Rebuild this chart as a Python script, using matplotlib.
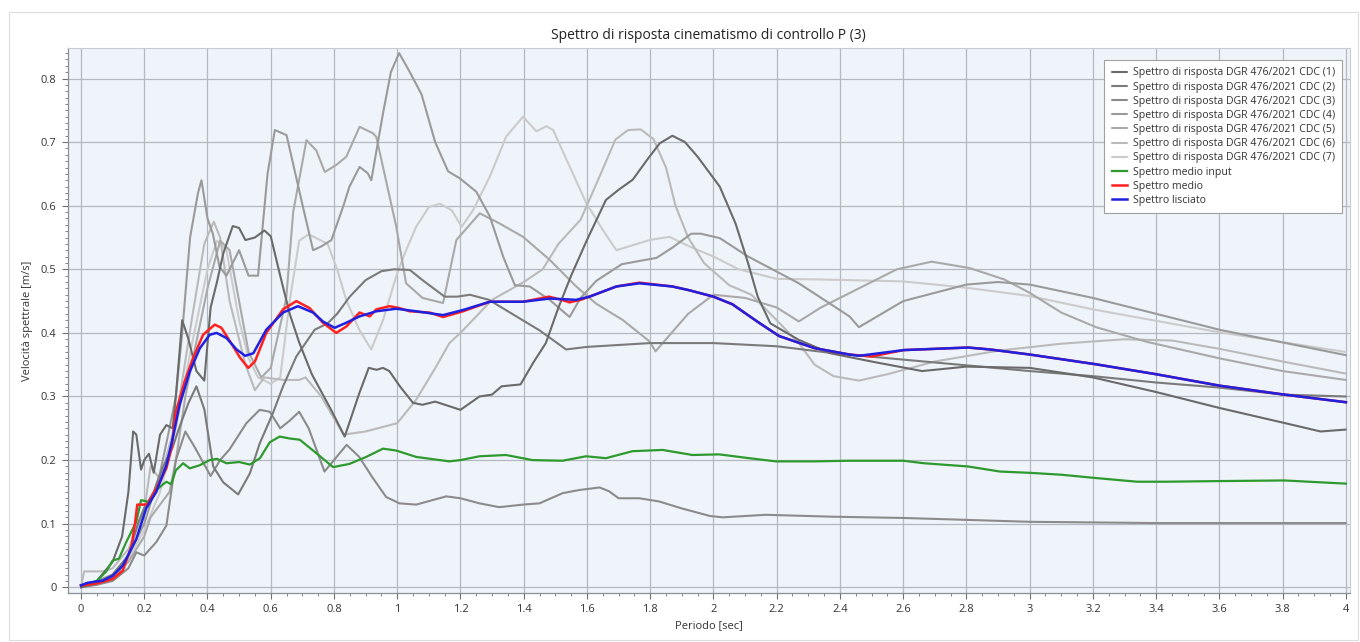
import matplotlib
matplotlib.use("Agg")
import matplotlib.pyplot as plt
from matplotlib.ticker import MultipleLocator, FuncFormatter
from matplotlib.patches import Rectangle

plt.rcParams['font.family'] = ['Open Sans', 'DejaVu Sans']

title = "Spettro di risposta cinematismo di controllo P (3)"
xlabel = "Periodo [sec]"
ylabel = "Velocità spettrale [m/s]"

labels_cdc = ["Spettro di risposta DGR 476/2021 CDC (%d)" % i for i in range(1, 8)]
label_green = "Spettro medio input"
label_red = "Spettro medio"
label_blue = "Spettro lisciato"

# ---- CDC (1)
cdc1_x = [0, 0.05, 0.1, 0.13, 0.15, 0.165, 0.175, 0.19, 0.2, 0.215, 0.23, 0.25, 0.27, 0.29, 0.3, 0.32,
          0.34, 0.365, 0.39, 0.41, 0.43, 0.45, 0.48, 0.5, 0.52, 0.55, 0.58, 0.6, 0.63, 0.66, 0.69, 0.73,
          0.79, 0.834, 0.88, 0.91, 0.935, 0.955, 0.975, 1.01, 1.05, 1.08, 1.12, 1.2, 1.26, 1.3, 1.33,
          1.39, 1.43, 1.47, 1.51, 1.55, 1.6, 1.66, 1.7, 1.745, 1.79, 1.83, 1.87, 1.91, 1.95, 2.02, 2.07,
          2.11, 2.14, 2.18, 2.27, 2.37, 2.5, 2.66, 2.8, 3.0, 3.2, 3.4, 3.6, 3.8, 3.92, 4.0]
cdc1_y = [0, 0.01, 0.04, 0.08, 0.15, 0.245, 0.24, 0.185, 0.2, 0.21, 0.18, 0.24, 0.255, 0.25, 0.3, 0.42,
          0.39, 0.34, 0.325, 0.44, 0.48, 0.525, 0.568, 0.565, 0.546, 0.55, 0.561, 0.552, 0.49, 0.43, 0.385,
          0.335, 0.28, 0.237, 0.305, 0.345, 0.342, 0.345, 0.34, 0.315, 0.29, 0.287, 0.292, 0.279, 0.3,
          0.303, 0.316, 0.319, 0.353, 0.384, 0.44, 0.49, 0.546, 0.609, 0.625, 0.641, 0.672, 0.698, 0.71,
          0.7, 0.677, 0.63, 0.572, 0.509, 0.457, 0.415, 0.389, 0.368, 0.355, 0.34, 0.347, 0.345, 0.33,
          0.307, 0.282, 0.259, 0.245, 0.248]

# ---- CDC (2)
cdc2_x = [0, 0.05, 0.1, 0.15, 0.18, 0.2, 0.23, 0.26, 0.29, 0.31, 0.34, 0.365, 0.39, 0.418, 0.45, 0.497,
          0.534, 0.565, 0.607, 0.639, 0.681, 0.739, 0.78, 0.81, 0.85, 0.9, 0.95, 0.99, 1.04, 1.08, 1.15,
          1.19, 1.23, 1.29, 1.38, 1.45, 1.534, 1.6, 1.8, 2.0, 2.2, 2.38, 2.6, 2.8, 3.0, 3.2, 3.4, 3.6,
          3.8, 4.0]
cdc2_y = [0, 0.006, 0.02, 0.05, 0.1, 0.125, 0.15, 0.19, 0.22, 0.25, 0.29, 0.316, 0.28, 0.19, 0.165, 0.146,
          0.179, 0.226, 0.274, 0.316, 0.363, 0.405, 0.415, 0.43, 0.457, 0.483, 0.497, 0.5, 0.499, 0.483,
          0.457, 0.457, 0.46, 0.452, 0.425, 0.404, 0.374, 0.378, 0.384, 0.384, 0.379, 0.368, 0.358, 0.349,
          0.34, 0.332, 0.322, 0.314, 0.303, 0.3]

# ---- CDC (3)
cdc3_x = [0, 0.05, 0.1, 0.15, 0.175, 0.2, 0.238, 0.27, 0.3, 0.33, 0.36, 0.41, 0.44, 0.47, 0.523, 0.565,
          0.597, 0.63, 0.66, 0.69, 0.72, 0.77, 0.8, 0.84, 0.88, 0.92, 0.965, 1.007, 1.06, 1.155, 1.2,
          1.26, 1.323, 1.397, 1.45, 1.523, 1.576, 1.64, 1.67, 1.7, 1.765, 1.828, 1.9, 1.99, 2.03, 2.165,
          2.376, 2.6, 2.8, 3.0, 3.4, 4.0]
cdc3_y = [0, 0.004, 0.01, 0.03, 0.055, 0.05, 0.071, 0.097, 0.2, 0.245, 0.22, 0.175, 0.2, 0.217, 0.258,
          0.279, 0.276, 0.25, 0.262, 0.276, 0.25, 0.182, 0.2, 0.224, 0.205, 0.174, 0.142, 0.132, 0.13,
          0.143, 0.14, 0.132, 0.126, 0.13, 0.132, 0.148, 0.153, 0.157, 0.151, 0.14, 0.14, 0.135, 0.124,
          0.112, 0.11, 0.114, 0.111, 0.109, 0.106, 0.103, 0.101, 0.101]

# ---- CDC (4)
cdc4_x = [0, 0.05, 0.1, 0.15, 0.2, 0.25, 0.28, 0.3, 0.32, 0.345, 0.37, 0.381, 0.4, 0.417, 0.438, 0.46,
          0.5, 0.53, 0.56, 0.59, 0.613, 0.65, 0.702, 0.734, 0.76, 0.792, 0.83, 0.849, 0.881, 0.907, 0.918,
          0.955, 0.98, 1.006, 1.04, 1.077, 1.12, 1.161, 1.198, 1.25, 1.293, 1.335, 1.372, 1.419, 1.482,
          1.545, 1.58, 1.63, 1.71, 1.82, 1.87, 1.93, 1.96, 2.02, 2.11, 2.27, 2.43, 2.46, 2.6, 2.8, 2.9,
          3.0, 3.2, 3.4, 3.6, 3.8, 4.0]
cdc4_y = [0, 0.01, 0.02, 0.05, 0.1, 0.18, 0.25, 0.3, 0.4, 0.55, 0.62, 0.64, 0.58, 0.556, 0.504, 0.49,
          0.53, 0.49, 0.49, 0.65, 0.719, 0.711, 0.598, 0.53, 0.536, 0.546, 0.6, 0.63, 0.661, 0.651, 0.64,
          0.745, 0.81, 0.84, 0.81, 0.775, 0.7, 0.654, 0.643, 0.622, 0.583, 0.52, 0.475, 0.473, 0.452,
          0.425, 0.455, 0.482, 0.508, 0.518, 0.534, 0.556, 0.556, 0.549, 0.52, 0.478, 0.426, 0.409, 0.45,
          0.476, 0.48, 0.476, 0.455, 0.43, 0.405, 0.385, 0.365]

# ---- CDC (5)
cdc5_x = [0, 0.05, 0.1, 0.15, 0.2, 0.22, 0.25, 0.28, 0.3, 0.33, 0.35, 0.4, 0.44, 0.47, 0.5, 0.53, 0.57,
          0.6, 0.649, 0.671, 0.713, 0.744, 0.771, 0.807, 0.839, 0.881, 0.923, 0.934, 0.997, 1.028, 1.08,
          1.145, 1.187, 1.261, 1.324, 1.398, 1.482, 1.566, 1.629, 1.714, 1.797, 1.817, 1.85, 1.92, 2.0,
          2.1, 2.2, 2.27, 2.34, 2.46, 2.58, 2.69, 2.81, 2.92, 3.0, 3.1, 3.21, 3.37, 3.6, 3.8, 4.0]
cdc5_y = [0, 0.005, 0.015, 0.04, 0.08, 0.11, 0.13, 0.15, 0.2, 0.3, 0.35, 0.47, 0.545, 0.53, 0.45, 0.37,
          0.33, 0.345, 0.454, 0.59, 0.703, 0.687, 0.653, 0.664, 0.677, 0.724, 0.714, 0.708, 0.567, 0.478,
          0.455, 0.447, 0.546, 0.588, 0.572, 0.551, 0.515, 0.473, 0.446, 0.42, 0.387, 0.371, 0.39, 0.43,
          0.46, 0.455, 0.44, 0.418, 0.44, 0.47, 0.5, 0.512, 0.502, 0.484, 0.463, 0.432, 0.409, 0.386,
          0.36, 0.34, 0.326]

# ---- CDC (6)
cdc6_x = [0, 0.01, 0.07, 0.1, 0.15, 0.2, 0.22, 0.25, 0.3, 0.35, 0.39, 0.42, 0.44, 0.47, 0.52, 0.55,
          0.58, 0.64, 0.69, 0.71, 0.76, 0.83, 0.9, 1.0, 1.06, 1.123, 1.165, 1.2, 1.3, 1.4, 1.46, 1.51,
          1.58, 1.64, 1.69, 1.73, 1.77, 1.81, 1.85, 1.88, 1.92, 1.97, 2.05, 2.12, 2.2, 2.27, 2.32, 2.38,
          2.46, 2.55, 2.7, 2.9, 3.1, 3.3, 3.45, 3.6, 3.8, 4.0]
cdc6_y = [0, 0.025, 0.025, 0.03, 0.06, 0.12, 0.19, 0.17, 0.26, 0.42, 0.54, 0.575, 0.55, 0.45, 0.35, 0.31,
          0.33, 0.326, 0.326, 0.33, 0.3, 0.24, 0.245, 0.258, 0.295, 0.347, 0.384, 0.4, 0.452, 0.48, 0.5,
          0.54, 0.578, 0.646, 0.704, 0.719, 0.72, 0.705, 0.66, 0.6, 0.55, 0.51, 0.475, 0.46, 0.42, 0.384,
          0.35, 0.332, 0.325, 0.335, 0.355, 0.372, 0.383, 0.39, 0.388, 0.375, 0.355, 0.336]

# ---- CDC (7)
cdc7_x = [0, 0.05, 0.1, 0.15, 0.2, 0.25, 0.3, 0.35, 0.4, 0.43, 0.46, 0.5, 0.53, 0.56, 0.6, 0.63, 0.66,
          0.69, 0.72, 0.78, 0.81, 0.84, 0.88, 0.918, 0.955, 1.0, 1.028, 1.06, 1.1, 1.135, 1.172, 1.204,
          1.24, 1.293, 1.345, 1.398, 1.44, 1.472, 1.493, 1.545, 1.598, 1.65, 1.693, 1.798, 1.861, 1.924,
          2.0, 2.08, 2.2, 2.34, 2.6, 2.8, 3.0, 3.2, 3.6, 4.0]
cdc7_y = [0, 0.005, 0.015, 0.045, 0.09, 0.15, 0.25, 0.38, 0.5, 0.545, 0.53, 0.42, 0.36, 0.33, 0.32,
          0.33, 0.45, 0.545, 0.555, 0.54, 0.5, 0.45, 0.405, 0.374, 0.42, 0.494, 0.53, 0.567, 0.598, 0.603,
          0.593, 0.567, 0.593, 0.646, 0.709, 0.74, 0.717, 0.725, 0.719, 0.662, 0.604, 0.562, 0.53, 0.546,
          0.551, 0.536, 0.52, 0.5, 0.485, 0.484, 0.481, 0.471, 0.458, 0.437, 0.401, 0.37]

# ---- Spettro medio input (green)
green_x = [0, 0.05, 0.08, 0.1, 0.12, 0.143, 0.175, 0.19, 0.217, 0.243, 0.27, 0.285, 0.3, 0.323, 0.344,
           0.376, 0.407, 0.43, 0.46, 0.5, 0.534, 0.566, 0.597, 0.628, 0.66, 0.692, 0.744, 0.797, 0.849,
           0.902, 0.955, 0.997, 1.06, 1.165, 1.2, 1.26, 1.344, 1.428, 1.523, 1.597, 1.66, 1.744, 1.839,
           1.934, 2.018, 2.113, 2.197, 2.323, 2.43, 2.6, 2.667, 2.805, 2.906, 3.0, 3.1, 3.205, 3.34,
           3.43, 3.6, 3.805, 4.0]
green_y = [0.003, 0.01, 0.025, 0.042, 0.045, 0.071, 0.103, 0.137, 0.134, 0.155, 0.166, 0.162, 0.184,
           0.195, 0.187, 0.192, 0.2, 0.202, 0.195, 0.197, 0.193, 0.203, 0.228, 0.237, 0.234, 0.232,
           0.211, 0.189, 0.194, 0.205, 0.218, 0.215, 0.205, 0.198, 0.2, 0.206, 0.208, 0.2, 0.199, 0.206,
           0.203, 0.214, 0.216, 0.208, 0.209, 0.203, 0.198, 0.198, 0.199, 0.199, 0.195, 0.19, 0.182,
           0.18, 0.177, 0.172, 0.166, 0.166, 0.167, 0.168, 0.163]

# ---- Spettro medio (red)
red_x = [0, 0.05, 0.1, 0.132, 0.16, 0.172, 0.178, 0.21, 0.238, 0.27, 0.286, 0.3, 0.328, 0.354, 0.386,
         0.423, 0.444, 0.471, 0.503, 0.529, 0.55, 0.586, 0.639, 0.681, 0.723, 0.765, 0.807, 0.839, 0.881,
         0.913, 0.934, 0.976, 1.007, 1.039, 1.102, 1.145, 1.208, 1.293, 1.398, 1.48, 1.52, 1.545, 1.58,
         1.608, 1.693, 1.766, 1.87, 1.924, 2.0, 2.06, 2.144, 2.208, 2.32, 2.43, 2.5, 2.602, 2.805, 2.874,
         3.0, 3.205, 3.4, 3.601, 3.805, 4.0]
red_y = [0.003, 0.006, 0.013, 0.026, 0.065, 0.105, 0.13, 0.13, 0.155, 0.187, 0.218, 0.276, 0.324, 0.36,
         0.397, 0.413, 0.408, 0.387, 0.361, 0.345, 0.355, 0.4, 0.437, 0.45, 0.439, 0.416, 0.4, 0.41,
         0.432, 0.426, 0.437, 0.442, 0.439, 0.434, 0.432, 0.425, 0.434, 0.449, 0.449, 0.457, 0.452,
         0.448, 0.452, 0.457, 0.473, 0.479, 0.473, 0.467, 0.457, 0.445, 0.416, 0.395, 0.376, 0.366,
         0.363, 0.373, 0.377, 0.374, 0.366, 0.351, 0.335, 0.317, 0.303, 0.291]

# ---- Spettro lisciato (blue)
blue_x = [0, 0.02, 0.069, 0.1, 0.132, 0.175, 0.206, 0.238, 0.27, 0.29, 0.312, 0.344, 0.376, 0.407,
          0.429, 0.46, 0.492, 0.519, 0.545, 0.586, 0.639, 0.686, 0.734, 0.765, 0.802, 0.839, 0.881,
          0.934, 0.997, 1.06, 1.145, 1.208, 1.293, 1.398, 1.482, 1.566, 1.608, 1.693, 1.766, 1.87, 1.924,
          2.0, 2.06, 2.144, 2.208, 2.32, 2.43, 2.461, 2.602, 2.805, 2.874, 3.0, 3.205, 3.4, 3.601,
          3.805, 4.0]
blue_y = [0.003, 0.007, 0.0105, 0.018, 0.034, 0.076, 0.124, 0.15, 0.192, 0.234, 0.287, 0.339, 0.376,
          0.397, 0.4, 0.392, 0.374, 0.364, 0.368, 0.405, 0.432, 0.442, 0.432, 0.418, 0.408, 0.416, 0.426,
          0.434, 0.438, 0.434, 0.428, 0.436, 0.449, 0.449, 0.454, 0.452, 0.457, 0.473, 0.478, 0.473,
          0.467, 0.457, 0.445, 0.416, 0.395, 0.376, 0.366, 0.364, 0.373, 0.377, 0.374, 0.366, 0.351,
          0.335, 0.317, 0.303, 0.291]

gray_series = [(cdc1_x, cdc1_y), (cdc2_x, cdc2_y), (cdc3_x, cdc3_y), (cdc4_x, cdc4_y),
               (cdc5_x, cdc5_y), (cdc6_x, cdc6_y), (cdc7_x, cdc7_y)]
gray_colors = ['#6a6a6a', '#7a7a7a', '#8b8b8b', '#9a9a9a', '#a9a9a9', '#bababa', '#cbcbcb']

W, H = 1360, 642
fig = plt.figure(figsize=(W / 100, H / 100), dpi=100)
fig.patch.set_facecolor('white')
fig.patches.append(Rectangle((9 / W, 2 / H), 1349 / W, 628 / H, transform=fig.transFigure,
                             fill=False, edgecolor='#dcdcdc', linewidth=0.8))

ax = fig.add_axes([67.7 / W, 1 - 592.7 / H, (1350 - 67.7) / W, (592.7 - 48.3) / H])
ax.set_facecolor('#eff4fb')

draw_order = [6, 5, 4, 3, 2, 1, 0]
for i in draw_order:
    xs, ys = gray_series[i]
    ax.plot(xs, ys, color=gray_colors[i], lw=1.5, label=labels_cdc[i], zorder=3 + (6 - i) * 0.01,
            solid_joinstyle='round', solid_capstyle='round')
ax.plot(green_x, green_y, color='#2e9a2e', lw=1.6, label=label_green, zorder=4, solid_joinstyle='round')
ax.plot(red_x, red_y, color='#ff2020', lw=1.8, label=label_red, zorder=5, solid_joinstyle='round')
ax.plot(blue_x, blue_y, color='#2020e0', lw=1.8, label=label_blue, zorder=6, solid_joinstyle='round')

ax.set_xlim(-0.042, 4.013)
ax.set_ylim(-0.0085, 0.8475)
ax.xaxis.set_major_locator(MultipleLocator(0.2))
ax.xaxis.set_minor_locator(MultipleLocator(0.05))
ax.yaxis.set_major_locator(MultipleLocator(0.1))
ax.yaxis.set_minor_locator(MultipleLocator(0.01))
fmt = FuncFormatter(lambda v, p: ('%.1f' % v).rstrip('0').rstrip('.') if abs(v) > 1e-9 else '0')
ax.xaxis.set_major_formatter(fmt)
ax.yaxis.set_major_formatter(fmt)
ax.grid(True, which='major', color='#b4b8c1', lw=0.9, zorder=1)
ax.set_axisbelow(True)
for s in ['top', 'right']:
    ax.spines[s].set_color('#c8ccd2')
    ax.spines[s].set_linewidth(0.8)
for s in ['left', 'bottom']:
    ax.spines[s].set_color('#8a8f97')
    ax.spines[s].set_linewidth(0.9)
ax.tick_params(which='major', length=4, width=0.8, color='#707070', labelsize=8, labelcolor='#333333',
               pad=4)
ax.tick_params(which='minor', length=2.5, width=0.6, color='#707070')

ax.set_title(title, fontsize=10, color='#222222', pad=7)
ax.set_xlabel(xlabel, fontsize=8, color='#333333', labelpad=4)
ax.set_ylabel(ylabel, fontsize=8, color='#333333', labelpad=6)

handles, labs = ax.get_legend_handles_labels()
order = [labs.index(l) for l in labels_cdc + [label_green, label_red, label_blue]]
leg = ax.legend([handles[k] for k in order], [labs[k] for k in order], loc='upper right',
                bbox_to_anchor=(0.998, 0.988), fontsize=7.6, frameon=True, fancybox=False,
                edgecolor='#a0a0a0', facecolor='white', framealpha=1.0, handlelength=1.5,
                handletextpad=0.5, labelspacing=0.3, borderpad=0.7)
leg.get_frame().set_linewidth(0.8)
for t in leg.get_texts():
    t.set_color('#333333')

fig.savefig('out.png', dpi=100, facecolor='white')
